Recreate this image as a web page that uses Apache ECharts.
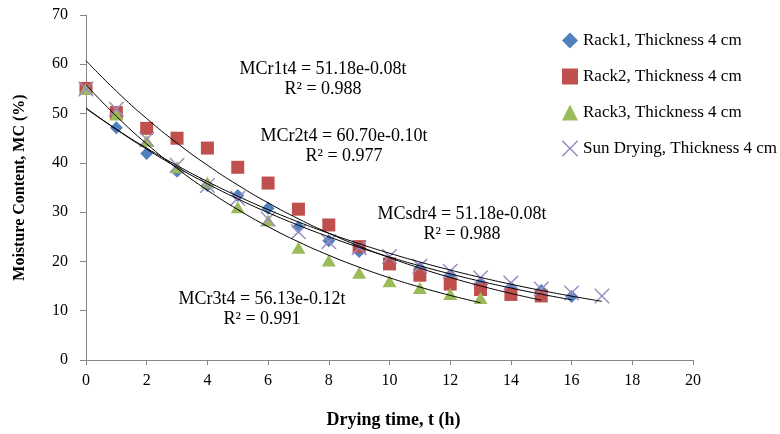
<!DOCTYPE html>
<html>
<head>
<meta charset="utf-8">
<script src="https://cdn.jsdelivr.net/npm/echarts@6/dist/echarts.min.js"></script>
<style>
  html, body { margin: 0; padding: 0; background: #fff; }
  #chart { width: 780px; height: 434px; }
</style>
</head>
<body>
<div id="chart"></div>
<script>
// drying curves, moisture content (%) vs drying time (h)
var rack1T = [0, 1, 2, 3, 4, 5, 6, 7, 8, 9, 10, 11, 12, 13, 14, 15, 16];
var rack1MC = [55, 47.1, 41.9, 38.3, 35.4, 33.4, 30.8, 27.0, 24.2, 22.0, 20.0, 18.6, 17.2, 15.6, 14.7, 14.1, 12.9];

var rack2T = [0, 1, 2, 3, 4, 5, 6, 7, 8, 9, 10, 11, 12, 13, 14, 15];
var rack2MC = [55.1, 50.2, 47.0, 45.0, 43.0, 39.1, 35.9, 30.6, 27.4, 23.0, 19.5, 17.2, 15.4, 14.3, 13.3, 13.0];

var rack3T = [0, 1, 2, 3, 4, 5, 6, 7, 8, 9, 10, 11, 12, 13];
var rack3MC = [55, 49.8, 44.5, 39.1, 36.0, 31.0, 28.3, 22.8, 20.2, 17.7, 16.0, 14.6, 13.4, 12.6];

var sunT = [0, 1, 2, 3, 4, 5, 6, 7, 8, 9, 10, 11, 12, 13, 14, 15, 16, 17];
var sunMC = [55, 50.9, 44.8, 39.5, 35.4, 32.8, 28.6, 26.0, 24.0, 22.8, 21.0, 19.0, 18.0, 16.7, 15.6, 14.4, 13.6, 13.0];

var seriesNames = ['Rack1, Thickness 4 cm', 'Rack2, Thickness 4 cm', 'Rack3, Thickness 4 cm', 'Sun Drying, Thickness 4 cm'];

var eqLabels = [
    ['MCr1t4 = 51.18e-0.08t', 'R\u00b2 = 0.988'],
    ['MCr2t4 = 60.70e-0.10t', 'R\u00b2 = 0.977'],
    ['MCsdr4 = 51.18e-0.08t', 'R\u00b2 = 0.988'],
    ['MCr3t4 = 56.13e-0.12t', 'R\u00b2 = 0.991']
];

var SERIF = '"Liberation Serif", "DejaVu Serif", serif';

function zip(xs, ys) {
    var out = [];
    for (var i = 0; i < xs.length; i++) out.push([xs[i], ys[i]]);
    return out;
}

// exponential trendline (least squares on ln y), evaluated at the observed times
function expTrend(xs, ys) {
    var n = xs.length, sx = 0, sy = 0, sxx = 0, sxy = 0;
    for (var i = 0; i < n; i++) {
        var ly = Math.log(ys[i]);
        sx += xs[i]; sy += ly; sxx += xs[i] * xs[i]; sxy += xs[i] * ly;
    }
    var b = (n * sxy - sx * sy) / (n * sxx - sx * sx);
    var a = Math.exp((sy - b * sx) / n);
    var pts = [];
    for (var j = 0; j < n; j++) pts.push([xs[j], a * Math.exp(b * xs[j])]);
    return pts;
}

var crossPath = 'path://M0,0 L1.4,0 L10,8.6 L18.6,0 L20,0 L20,1.4 L11.4,10 L20,18.6 L20,20 L18.6,20 L10,11.4 L1.4,20 L0,20 L0,18.6 L8.6,10 L0,1.4 Z';

function scatter(name, data, symbol, size, color) {
    return {
        name: name,
        type: 'scatter',
        data: data,
        symbol: symbol,
        symbolSize: size,
        itemStyle: { color: color, opacity: 1 },
        z: 2
    };
}

function trend(data) {
    return {
        type: 'line',
        data: data,
        smooth: true,
        showSymbol: false,
        silent: true,
        lineStyle: { color: '#000', width: 1 },
        z: 3
    };
}

// equation labels, centred on their anchor points
var texts = [];
var eqPos = [[323, 59], [344, 126], [462, 204], [262, 289]];
eqLabels.forEach(function (pair, i) {
    texts.push({
        type: 'text', x: eqPos[i][0], y: eqPos[i][1],
        style: { text: pair[0] + '\n' + pair[1], font: '18px ' + SERIF, fill: '#000', align: 'center', verticalAlign: 'top', lineHeight: 20 },
        z: 10
    });
});

var chart = echarts.init(document.getElementById('chart'));
chart.setOption({
    animation: false,
    backgroundColor: '#fff',
    grid: { left: 86, right: 87, top: 15, bottom: 71 },
    legend: {
        orient: 'vertical',
        left: 557,
        top: 27,
        itemGap: 19,
        itemWidth: 16,
        itemHeight: 16,
        data: seriesNames,
        textStyle: { fontFamily: SERIF, fontSize: 17, color: '#000' }
    },
    xAxis: {
        type: 'value',
        min: 0, max: 20, interval: 2,
        name: 'Drying time, t (h)',
        nameLocation: 'middle',
        nameGap: 51,
        nameTextStyle: { fontFamily: SERIF, fontSize: 18, fontWeight: 'bold', color: '#000', padding: [0, 0, 0, 8] },
        axisLine: { lineStyle: { color: '#868686', width: 1 } },
        axisTick: { show: true, length: 5, lineStyle: { color: '#868686' } },
        axisLabel: { fontFamily: SERIF, fontSize: 16, color: '#000', margin: 13 },
        splitLine: { show: false }
    },
    yAxis: {
        type: 'value',
        min: 0, max: 70, interval: 10,
        name: 'Moisture Content, MC (%)',
        nameLocation: 'middle',
        nameGap: 58,
        nameTextStyle: { fontFamily: SERIF, fontSize: 16, fontWeight: 'bold', color: '#000' },
        axisLine: { show: true, lineStyle: { color: '#868686', width: 1 } },
        axisTick: { show: true, length: 6, lineStyle: { color: '#868686' } },
        axisLabel: { fontFamily: SERIF, fontSize: 16, color: '#000', margin: 18 },
        splitLine: { show: false }
    },
    graphic: texts,
    series: [
        scatter(seriesNames[0], zip(rack1T, rack1MC), 'diamond', [13, 13], '#4F81BD'),
        scatter(seriesNames[1], zip(rack2T, rack2MC), 'rect', [13, 13], '#C0504D'),
        scatter(seriesNames[2], zip(rack3T, rack3MC), 'triangle', [14, 12], '#9BBB59'),
        scatter(seriesNames[3], zip(sunT, sunMC), crossPath, [15, 15], '#9D8CC4'),
        trend(expTrend(rack1T, rack1MC)),
        trend(expTrend(rack2T, rack2MC)),
        trend(expTrend(rack3T, rack3MC)),
        trend(expTrend(sunT, sunMC))
    ]
});
</script>
</body>
</html>
